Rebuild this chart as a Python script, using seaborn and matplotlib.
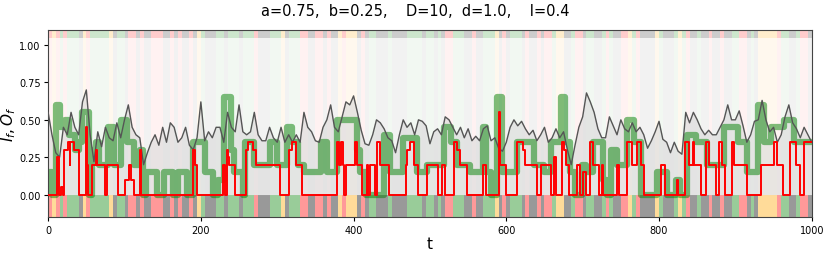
import numpy as np
import pandas as pd
import matplotlib
matplotlib.use("Agg")
import matplotlib.pyplot as plt
import seaborn as sns

# input signal I_f, sampled every 5 steps
t_in = np.arange(0, 1001, 5)
i_f = [0.55, 0.40, 0.28, 0.25, 0.45, 0.40, 0.55, 0.45, 0.40, 0.62,
       0.70, 0.40, 0.22, 0.42, 0.32, 0.45, 0.38, 0.36, 0.48, 0.38,
       0.50, 0.60, 0.45, 0.40, 0.38, 0.20, 0.28, 0.35, 0.40, 0.33,
       0.45, 0.35, 0.48, 0.45, 0.35, 0.38, 0.45, 0.33, 0.30, 0.38,
       0.62, 0.36, 0.42, 0.38, 0.45, 0.45, 0.35, 0.55, 0.45, 0.42,
       0.60, 0.42, 0.40, 0.42, 0.55, 0.40, 0.36, 0.36, 0.45, 0.38,
       0.35, 0.45, 0.35, 0.40, 0.35, 0.40, 0.35, 0.55, 0.45, 0.42,
       0.36, 0.35, 0.45, 0.50, 0.60, 0.45, 0.42, 0.52, 0.62, 0.60,
       0.66, 0.55, 0.43, 0.34, 0.33, 0.40, 0.50, 0.48, 0.44, 0.38,
       0.36, 0.28, 0.40, 0.50, 0.45, 0.48, 0.40, 0.50, 0.49, 0.46,
       0.34, 0.42, 0.44, 0.40, 0.52, 0.50, 0.45, 0.40, 0.45, 0.38,
       0.44, 0.36, 0.39, 0.36, 0.44, 0.46, 0.36, 0.38, 0.31, 0.29,
       0.35, 0.45, 0.50, 0.46, 0.49, 0.44, 0.40, 0.43, 0.36, 0.40,
       0.45, 0.35, 0.38, 0.44, 0.38, 0.42, 0.30, 0.20, 0.33, 0.45,
       0.52, 0.68, 0.62, 0.55, 0.44, 0.38, 0.38, 0.52, 0.46, 0.40,
       0.50, 0.44, 0.42, 0.48, 0.42, 0.45, 0.40, 0.31, 0.36, 0.42,
       0.49, 0.37, 0.35, 0.28, 0.35, 0.29, 0.27, 0.55, 0.48, 0.55,
       0.50, 0.44, 0.40, 0.43, 0.40, 0.40, 0.45, 0.50, 0.60, 0.50,
       0.50, 0.56, 0.46, 0.35, 0.40, 0.49, 0.50, 0.63, 0.50, 0.42,
       0.45, 0.35, 0.40, 0.52, 0.60, 0.48, 0.44, 0.38, 0.45, 0.40, 0.35]

# output O_f (thick green), given as change points
green_t = [0, 5, 10, 15, 22, 27, 35, 40, 44, 53, 58, 63, 66, 78, 86, 96, 103,
           113, 120, 124, 128, 142, 152, 164, 170, 182, 190, 205, 216, 222, 230,
           239, 243, 255, 258, 270, 290, 300, 308, 313, 320, 327, 335, 357, 365,
           378, 404, 408, 416, 440, 448, 465, 483, 496, 518, 527, 535, 553, 570,
           574, 580, 588, 594, 614, 636, 650, 658, 671, 677, 684, 690, 699, 705,
           714, 727, 732, 737, 745, 758, 767, 776, 797, 810, 822, 827, 836, 849,
           863, 885, 903, 915, 930, 937, 946, 964, 977, 1000]
green_v = [0.15, 0, 0.60, 0.45, 0.50, 0.40, 0.30, 0.35, 0.55, 0, 0.30, 0.35,
           0.20, 0.45, 0.20, 0.50, 0.35, 0.20, 0.30, 0, 0.15, 0, 0.15, 0, 0.15,
           0, 0.35, 0.15, 0, 0.10, 0.65, 0.30, 0.15, 0, 0.35, 0.20, 0.35, 0.20,
           0.20, 0.45, 0.35, 0.20, 0.15, 0.35, 0.15, 0.50, 0.30, 0.15, 0, 0.40,
           0.15, 0.38, 0.15, 0.20, 0.45, 0.35, 0.20, 0.15, 0.45, 0.15, 0, 0.65,
           0.15, 0.35, 0.20, 0.15, 0.35, 0.65, 0.35, 0.15, 0, 0.20, 0.15, 0.35,
           0.10, 0, 0.30, 0.20, 0.50, 0.35, 0, 0.15, 0, 0.10, 0, 0.40, 0.35,
           0.20, 0.45, 0.35, 0.15, 0.60, 0.35, 0.45, 0.50, 0.35, 0.35]

# red step line, change points
red_t = [0, 12, 14, 17, 19, 21, 26, 28, 29, 34, 40, 49, 51, 52, 58, 63, 64, 75,
         77, 92, 101, 106, 108, 113, 120, 122, 190, 192, 195, 229, 231, 234, 236,
         237, 245, 259, 262, 268, 272, 304, 315, 320, 325, 333, 378, 381, 383,
         386, 388, 390, 402, 405, 411, 417, 419, 422, 428, 431, 435, 447, 468,
         470, 474, 479, 485, 496, 511, 516, 520, 531, 536, 540, 548, 570, 574,
         590, 592, 599, 614, 622, 625, 640, 645, 658, 663, 665, 673, 676, 678,
         682, 693, 697, 701, 705, 710, 714, 722, 725, 726, 745, 748, 758, 765,
         771, 776, 780, 802, 808, 823, 825, 834, 839, 845, 846, 855, 862, 866,
         874, 878, 882, 887, 895, 898, 915, 933, 950, 955, 963, 972, 980, 985,
         990, 1000]
red_v = [0, 0.25, 0, 0.05, 0, 0.30, 0.35, 0.20, 0.35, 0.30, 0, 0.45, 0.20, 0,
         0.20, 0.30, 0.20, 0, 0.20, 0, 0.10, 0.20, 0.10, 0, 0.30, 0, 0.30, 0.20,
         0, 0.20, 0, 0.30, 0.25, 0.20, 0, 0.30, 0.35, 0.30, 0.20, 0, 0.30, 0.35,
         0.20, 0, 0.35, 0.20, 0.35, 0.20, 0, 0.20, 0.35, 0.20, 0, 0.20, 0, 0.20,
         0, 0.35, 0.20, 0, 0.20, 0.30, 0.35, 0.20, 0, 0.20, 0, 0.20, 0, 0.35,
         0.30, 0.20, 0, 0.20, 0, 0.55, 0.20, 0, 0.35, 0.30, 0.20, 0, 0.20, 0,
         0.25, 0, 0.35, 0.30, 0.20, 0, 0.20, 0, 0.15, 0, 0.35, 0.20, 0, 0.20, 0,
         0.20, 0, 0.35, 0.20, 0.35, 0.20, 0, 0.20, 0, 0.10, 0, 0.35, 0.20, 0.35,
         0.20, 0, 0.35, 0.20, 0, 0.35, 0.20, 0, 0.35, 0.20, 0, 0.20, 0.35, 0.20,
         0, 0.35, 0.20, 0, 0.35, 0.35]

# state per 5-step bin: K=gray, G=green, R=red, Y=yellow
band_codes = ("RYRGRGGGKYRGGGGGYKGGKRRKRKKRRRKKRKRKKRKYGKKKGGKGGG"
              "KGGGRKKKGGGYKGGGRRKKRRKRKKYRYYYKRKGGKKKGKKKKGGGGKG"
              "GKGKRRGGGKKRKKGGGYKRKGGGKRKKRKRRGYYKKGRRKGGKKGRGKK"
              "RRYGRKKKKYGKKKGYGRKKGKKRKKRKKGGRRKGKYYYYYRGGKKGRRK")
band_t = np.arange(0, 1000, 5)

strong = {"K": "#999999", "G": "#99cc99", "R": "#ff9999", "Y": "#ffdb99"}
light = {"K": "#cccccc", "G": "#cce6cc", "R": "#ffcccc", "Y": "#ffedcc"}
faint = {"K": "#f2f2f2", "G": "#f2f8f2", "R": "#fff2f2", "Y": "#fff8ee"}

fig, ax = plt.subplots(figsize=(8.3, 2.55), dpi=100)
fig.subplots_adjust(left=0.058, right=0.978, top=0.878, bottom=0.145)

codes = list(band_codes)
bar_kw = dict(width=5, align="edge", linewidth=0, antialiased=False, zorder=0)
ax.bar(band_t, 1.05, bottom=0, color=[faint[c] for c in codes], **bar_kw)
ax.bar(band_t, 0.15, bottom=-0.15, color=[strong[c] for c in codes], **bar_kw)
ax.bar(band_t, 0.05, bottom=1.05, color=[light[c] for c in codes], **bar_kw)

ax.fill_between(t_in, 0, i_f, color="#d9d9d9", alpha=0.6, linewidth=0, zorder=1)

df_g = pd.DataFrame({"t": green_t, "v": green_v})
sns.lineplot(data=df_g, x="t", y="v", ax=ax, color="green", alpha=0.5,
             linewidth=4.5, drawstyle="steps-post", zorder=2)
df_i = pd.DataFrame({"t": t_in, "v": i_f})
sns.lineplot(data=df_i, x="t", y="v", ax=ax, color="#555555", linewidth=1.0,
             zorder=3)
df_r = pd.DataFrame({"t": red_t, "v": red_v})
sns.lineplot(data=df_r, x="t", y="v", ax=ax, color="red", linewidth=1.4,
             drawstyle="steps-post", zorder=4)

ax.set_xlim(0, 1000)
ax.set_ylim(-0.15, 1.1)
ax.set_yticks([0, 0.25, 0.5, 0.75, 1.0])
ax.set_xticks([0, 200, 400, 600, 800, 1000])
ax.tick_params(labelsize=7, length=3, pad=2.5)
ax.set_xlabel("t", fontsize=11, labelpad=1)
ax.set_ylabel("$I_f, O_f$", fontsize=11)
ax.yaxis.set_label_coords(-0.039, 0.5)
for s in ax.spines.values():
    s.set_color("#444444")
fig.suptitle("a=0.75,  b=0.25,    D=10,  d=1.0,    I=0.4", fontsize=10.5, y=0.985)

fig.savefig("out.png", dpi=100)
